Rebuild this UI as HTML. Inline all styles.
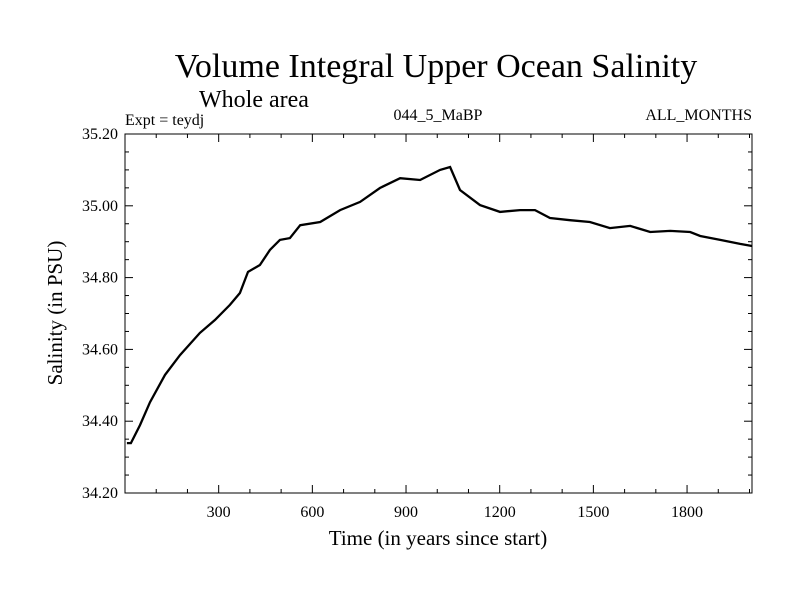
<!DOCTYPE html>
<html><head><meta charset="utf-8"><style>
body{margin:0;background:#fff;}
svg text{font-family:"Liberation Serif",serif;fill:#000;}
</style></head><body>
<svg id="c" width="800" height="600">
<text x="436" y="77" font-size="34" text-anchor="middle">Volume Integral Upper Ocean Salinity</text>
<text x="254" y="107" font-size="24" text-anchor="middle">Whole area</text>
<text x="125" y="125" font-size="16">Expt = teydj</text>
<text x="438" y="120" font-size="16" text-anchor="middle">044_5_MaBP</text>
<text x="752" y="120" font-size="16" text-anchor="end">ALL_MONTHS</text>
<text x="438" y="545" font-size="21" text-anchor="middle">Time (in years since start)</text>
<text transform="translate(62,313) rotate(-90)" font-size="21" text-anchor="middle">Salinity (in PSU)</text>
<g id="axes"></g>
<path id="line" fill="none" stroke="#000" stroke-width="2.3"/>
</svg>
<script>
const years=[6,19,48,80,128,176,240,288,336,368,394,432,464,496,528,561,625,689,753,817,881,945,1009,1041,1073,1137,1201,1265,1313,1361,1425,1489,1553,1618,1682,1746,1810,1842,1906,1970,2008];
const salinity=[34.339,34.339,34.389,34.453,34.529,34.584,34.646,34.682,34.724,34.757,34.816,34.835,34.877,34.905,34.910,34.946,34.955,34.988,35.011,35.050,35.077,35.072,35.100,35.108,35.044,35.002,34.983,34.988,34.988,34.966,34.960,34.955,34.938,34.944,34.927,34.930,34.927,34.916,34.905,34.894,34.888];
const xTicks=[300,600,900,1200,1500,1800];
const yTicks=[34.2,34.4,34.6,34.8,35.0,35.2];
const L=125,R=752,T=134,B=493,X0=0,X1=2008,Y0=34.2,Y1=35.2;
const sx=v=>L+(v-X0)/(X1-X0)*(R-L);
const sy=v=>B-(v-Y0)/(Y1-Y0)*(B-T);
const ns="http://www.w3.org/2000/svg";
const g=document.getElementById('axes');
function ln(x1,y1,x2,y2,n){const e=document.createElementNS(ns,'line');e.setAttribute('x1',x1);e.setAttribute('y1',y1);e.setAttribute('x2',x2);e.setAttribute('y2',y2);e.setAttribute('stroke','#000');e.setAttribute('stroke-width','1');


g.appendChild(e);}
const fr=document.createElementNS(ns,'rect');fr.setAttribute('x',L);fr.setAttribute('y',T);fr.setAttribute('width',R-L);fr.setAttribute('height',B-T);fr.setAttribute('fill','none');fr.setAttribute('stroke','#000');


g.appendChild(fr);
for(let v=100;v<X1;v+=100){const x=sx(v),len=(v%300==0)?8:4;ln(x,B,x,B-len,'x-tick');ln(x,T,x,T+len,'x-tick-top');}
for(let v=34.25;v<35.2;v+=0.05){const y=sy(v),maj=Math.abs((v-34.2)/0.2-Math.round((v-34.2)/0.2))<0.01,len=maj?8:4;ln(L,y,L+len,y,'y-tick');ln(R,y,R-len,y,'y-tick-right');}
xTicks.forEach(v=>{const t=document.createElementNS(ns,'text');t.setAttribute('x',sx(v));t.setAttribute('y',B+24);t.setAttribute('font-size','16');t.setAttribute('text-anchor','middle');t.textContent=v;


g.appendChild(t);});
yTicks.forEach(v=>{const t=document.createElementNS(ns,'text');t.setAttribute('x',L-7);t.setAttribute('y',sy(v)+5);t.setAttribute('font-size','16');t.setAttribute('text-anchor','end');t.textContent=v.toFixed(2);


g.appendChild(t);});
document.getElementById('line').setAttribute('d',years.map((y,i)=>(i?'L':'M')+sx(y).toFixed(1)+','+sy(salinity[i]).toFixed(1)).join(''));
</script>
</body></html>
